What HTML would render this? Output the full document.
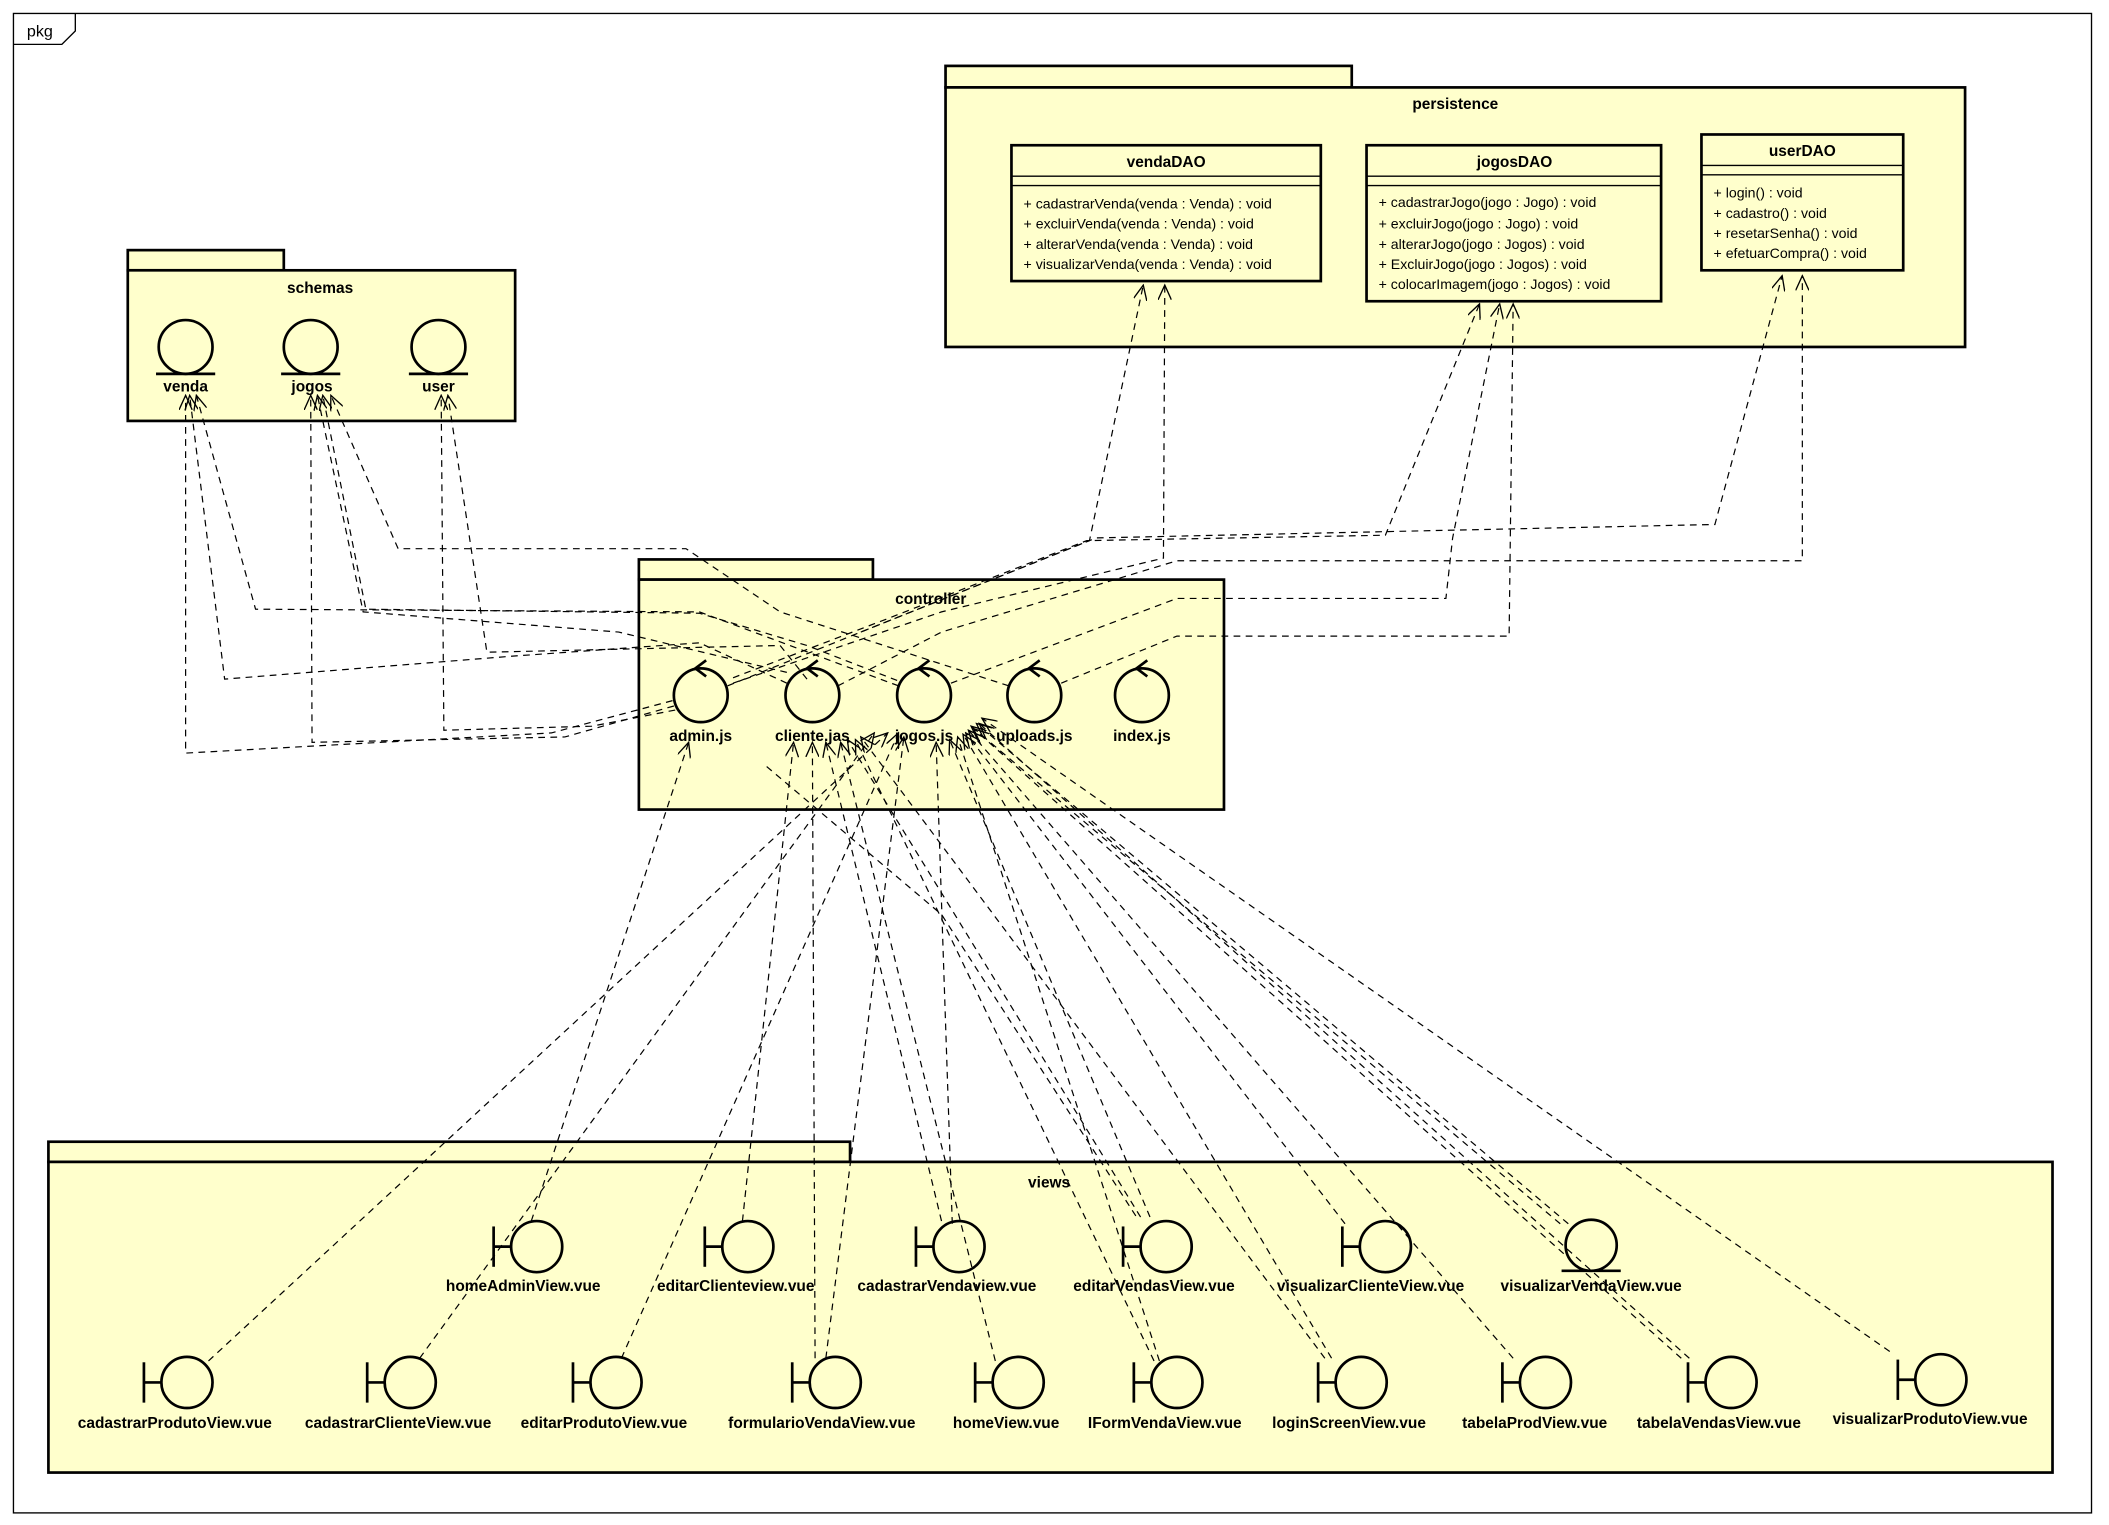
<!DOCTYPE html>
<html><head><meta charset="utf-8"><style>
html,body{margin:0;padding:0;background:#fff;width:2109px;height:1525px;overflow:hidden}
svg{display:block}
text{font-family:"Liberation Sans",Arial,sans-serif;fill:#000}
.b{font-weight:bold;font-size:11.5px}
.m{font-size:10.5px}
.pk{fill:#ffffcc;stroke:#000;stroke-width:2}
.sh{fill:none;stroke:#000;stroke-width:2}
.d{fill:none;stroke:#000;stroke-width:0.9;stroke-dasharray:5,4}
</style></head><body>
<svg width="2109" height="1525" viewBox="0 0 1568 1134" preserveAspectRatio="none" xmlns="http://www.w3.org/2000/svg">
<defs>
<marker id="a" viewBox="0 0 12 10" refX="11" refY="5" markerWidth="12" markerHeight="10" markerUnits="userSpaceOnUse" orient="auto">
<path d="M0,0 L11,5 L0,10" fill="none" stroke="#000" stroke-width="1"/></marker>
</defs>
<rect x="0" y="0" width="1568" height="1134" fill="#fff"/>
<!-- frame -->
<rect x="10" y="10" width="1545" height="1115" fill="none" stroke="#000" stroke-width="1"/>
<path d="M10,33 L46,33 L56,23 L56,10" fill="none" stroke="#000" stroke-width="1"/>
<text x="20" y="27" style="font-size:12px">pkg</text>

<!-- schemas -->
<rect class="pk" x="95" y="186" width="116" height="15"/>
<rect class="pk" x="95" y="201" width="288" height="112"/>
<text class="b" x="238" y="218" text-anchor="middle">schemas</text>
<g>
<circle class="sh" cx="138" cy="258" r="20"/><line x1="116" y1="278" x2="160" y2="278" stroke="#000" stroke-width="2"/>
<text class="b" x="138" y="291" text-anchor="middle">venda</text>
<circle class="sh" cx="231" cy="258" r="20"/><line x1="209" y1="278" x2="253" y2="278" stroke="#000" stroke-width="2"/>
<text class="b" x="232" y="291" text-anchor="middle">jogos</text>
<circle class="sh" cx="326" cy="258" r="20"/><line x1="304" y1="278" x2="348" y2="278" stroke="#000" stroke-width="2"/>
<text class="b" x="326" y="291" text-anchor="middle">user</text>
</g>

<!-- persistence -->
<rect class="pk" x="703" y="49" width="302" height="16"/>
<rect class="pk" x="703" y="65" width="758" height="193"/>
<text class="b" x="1082" y="81" text-anchor="middle">persistence</text>
<rect class="pk" x="752" y="108" width="230" height="101"/>
<line x1="752" y1="131" x2="982" y2="131" stroke="#000"/><line x1="752" y1="138" x2="982" y2="138" stroke="#000"/>
<text class="b" x="867" y="124" text-anchor="middle">vendaDAO</text>
<text class="m" x="761" y="155">+ cadastrarVenda(venda : Venda) : void</text>
<text class="m" x="761" y="170">+ excluirVenda(venda : Venda) : void</text>
<text class="m" x="761" y="185">+ alterarVenda(venda : Venda) : void</text>
<text class="m" x="761" y="200">+ visualizarVenda(venda : Venda) : void</text>

<rect class="pk" x="1016" y="108" width="219" height="116"/>
<line x1="1016" y1="131" x2="1235" y2="131" stroke="#000"/><line x1="1016" y1="138" x2="1235" y2="138" stroke="#000"/>
<text class="b" x="1126" y="124" text-anchor="middle">jogosDAO</text>
<text class="m" x="1025" y="154">+ cadastrarJogo(jogo : Jogo) : void</text>
<text class="m" x="1025" y="170">+ excluirJogo(jogo : Jogo) : void</text>
<text class="m" x="1025" y="185">+ alterarJogo(jogo : Jogos) : void</text>
<text class="m" x="1025" y="200">+ ExcluirJogo(jogo : Jogos) : void</text>
<text class="m" x="1025" y="215">+ colocarImagem(jogo : Jogos) : void</text>

<rect class="pk" x="1265" y="100" width="150" height="101"/>
<line x1="1265" y1="123" x2="1415" y2="123" stroke="#000"/><line x1="1265" y1="130" x2="1415" y2="130" stroke="#000"/>
<text class="b" x="1340" y="116" text-anchor="middle">userDAO</text>
<text class="m" x="1274" y="147">+ login() : void</text>
<text class="m" x="1274" y="162">+ cadastro() : void</text>
<text class="m" x="1274" y="177">+ resetarSenha() : void</text>
<text class="m" x="1274" y="192">+ efetuarCompra() : void</text>

<!-- controller -->
<rect class="pk" x="475" y="416" width="174" height="15"/>
<rect class="pk" x="475" y="431" width="435" height="171"/>
<text class="b" x="692" y="449" text-anchor="middle">controller</text>
<g>
<circle class="sh" cx="521" cy="517" r="20"/><path d="M525,491 L517,497 L525,503" class="sh"/>
<text class="b" x="521" y="551" text-anchor="middle">admin.js</text>
<circle class="sh" cx="604" cy="517" r="20"/><path d="M608,491 L600,497 L608,503" class="sh"/>
<text class="b" x="604" y="551" text-anchor="middle">cliente.jas</text>
<circle class="sh" cx="687" cy="517" r="20"/><path d="M691,491 L683,497 L691,503" class="sh"/>
<text class="b" x="687" y="551" text-anchor="middle">jogos.js</text>
<circle class="sh" cx="769" cy="517" r="20"/><path d="M773,491 L765,497 L773,503" class="sh"/>
<text class="b" x="769" y="551" text-anchor="middle">uploads.js</text>
<circle class="sh" cx="849" cy="517" r="20"/><path d="M853,491 L845,497 L853,503" class="sh"/>
<text class="b" x="849" y="551" text-anchor="middle">index.js</text>
</g>

<!-- views -->
<rect class="pk" x="36" y="849" width="596" height="15"/>
<rect class="pk" x="36" y="864" width="1490" height="231"/>
<text class="b" x="780" y="883" text-anchor="middle">views</text>
<g>
<!-- row 1 -->
<line x1="367" y1="912" x2="367" y2="942" class="sh"/><line x1="367" y1="927" x2="380" y2="927" class="sh"/><circle class="sh" cx="399" cy="927" r="19"/>
<text class="b" x="389" y="960" text-anchor="middle">homeAdminView.vue</text>
<line x1="524" y1="912" x2="524" y2="942" class="sh"/><line x1="524" y1="927" x2="537" y2="927" class="sh"/><circle class="sh" cx="556" cy="927" r="19"/>
<text class="b" x="547" y="960" text-anchor="middle">editarClienteview.vue</text>
<line x1="681" y1="912" x2="681" y2="942" class="sh"/><line x1="681" y1="927" x2="694" y2="927" class="sh"/><circle class="sh" cx="713" cy="927" r="19"/>
<text class="b" x="704" y="960" text-anchor="middle">cadastrarVendaview.vue</text>
<line x1="835" y1="912" x2="835" y2="942" class="sh"/><line x1="835" y1="927" x2="848" y2="927" class="sh"/><circle class="sh" cx="867" cy="927" r="19"/>
<text class="b" x="858" y="960" text-anchor="middle">editarVendasView.vue</text>
<line x1="998" y1="912" x2="998" y2="942" class="sh"/><line x1="998" y1="927" x2="1011" y2="927" class="sh"/><circle class="sh" cx="1030" cy="927" r="19"/>
<text class="b" x="1019" y="960" text-anchor="middle">visualizarClienteView.vue</text>
<circle class="sh" cx="1183" cy="926" r="19"/><line x1="1161" y1="945" x2="1205" y2="945" stroke="#000" stroke-width="2"/>
<text class="b" x="1183" y="960" text-anchor="middle">visualizarVendaView.vue</text>
<!-- row 2 -->
<line x1="107" y1="1013" x2="107" y2="1043" class="sh"/><line x1="107" y1="1028" x2="120" y2="1028" class="sh"/><circle class="sh" cx="139" cy="1028" r="19"/>
<text class="b" x="130" y="1062" text-anchor="middle">cadastrarProdutoView.vue</text>
<line x1="273" y1="1013" x2="273" y2="1043" class="sh"/><line x1="273" y1="1028" x2="286" y2="1028" class="sh"/><circle class="sh" cx="305" cy="1028" r="19"/>
<text class="b" x="296" y="1062" text-anchor="middle">cadastrarClienteView.vue</text>
<line x1="426" y1="1013" x2="426" y2="1043" class="sh"/><line x1="426" y1="1028" x2="439" y2="1028" class="sh"/><circle class="sh" cx="458" cy="1028" r="19"/>
<text class="b" x="449" y="1062" text-anchor="middle">editarProdutoView.vue</text>
<line x1="589" y1="1013" x2="589" y2="1043" class="sh"/><line x1="589" y1="1028" x2="602" y2="1028" class="sh"/><circle class="sh" cx="621" cy="1028" r="19"/>
<text class="b" x="611" y="1062" text-anchor="middle">formularioVendaView.vue</text>
<line x1="725" y1="1013" x2="725" y2="1043" class="sh"/><line x1="725" y1="1028" x2="738" y2="1028" class="sh"/><circle class="sh" cx="757" cy="1028" r="19"/>
<text class="b" x="748" y="1062" text-anchor="middle">homeView.vue</text>
<line x1="843" y1="1013" x2="843" y2="1043" class="sh"/><line x1="843" y1="1028" x2="856" y2="1028" class="sh"/><circle class="sh" cx="875" cy="1028" r="19"/>
<text class="b" x="866" y="1062" text-anchor="middle">IFormVendaView.vue</text>
<line x1="980" y1="1013" x2="980" y2="1043" class="sh"/><line x1="980" y1="1028" x2="993" y2="1028" class="sh"/><circle class="sh" cx="1012" cy="1028" r="19"/>
<text class="b" x="1003" y="1062" text-anchor="middle">loginScreenView.vue</text>
<line x1="1117" y1="1013" x2="1117" y2="1043" class="sh"/><line x1="1117" y1="1028" x2="1130" y2="1028" class="sh"/><circle class="sh" cx="1149" cy="1028" r="19"/>
<text class="b" x="1141" y="1062" text-anchor="middle">tabelaProdView.vue</text>
<line x1="1255" y1="1013" x2="1255" y2="1043" class="sh"/><line x1="1255" y1="1028" x2="1268" y2="1028" class="sh"/><circle class="sh" cx="1287" cy="1028" r="19"/>
<text class="b" x="1278" y="1062" text-anchor="middle">tabelaVendasView.vue</text>
<line x1="1411" y1="1011" x2="1411" y2="1041" class="sh"/><line x1="1411" y1="1026" x2="1424" y2="1026" class="sh"/><circle class="sh" cx="1443" cy="1026" r="19"/>
<text class="b" x="1435" y="1059" text-anchor="middle">visualizarProdutoView.vue</text>
</g>

<!-- dependencies: views -> controller -->
<g class="d" marker-end="url(#a)">
<path d="M155,1012 L660,545"/>
<path d="M312,1010 L650,545"/>
<path d="M395,908 L512,552"/>
<path d="M552,908 L590,552"/>
<path d="M462,1010 L668,545"/>
<path d="M606,1010 L604,552"/>
<path d="M614,1010 L672,548"/>
<path d="M700,908 L614,552"/>
<path d="M708,910 L696,552"/>
<path d="M740,1012 L625,552"/>
<path d="M848,905 L630,550"/>
<path d="M855,905 L706,550"/>
<path d="M858,1012 L636,550"/>
<path d="M862,1012 L712,548"/>
<path d="M1000,910 L718,545"/>
<path d="M985,1010 L640,548"/>
<path d="M990,1010 L716,546"/>
<path d="M1125,1010 L720,543"/>
<path d="M1160,910 L722,540"/>
<path d="M1166,910 L726,538"/>
<path d="M1250,1010 L724,542"/>
<path d="M1256,1010 L728,538"/>
<path d="M1405,1005 L730,534"/>
<path d="M570,570 L700,680 L845,905" marker-end="none"/>
</g>

<!-- controller -> schemas -->
<g class="d" marker-end="url(#a)">
<path d="M500,521 L410,545 L138,560 L138,294"/>
<path d="M501,525 L420,548 L232,552 L231,294"/>
<path d="M502,528 L440,540 L330,543 L328,294"/>
<path d="M585,508 L520,478 L380,488 L167,505 L141,294"/>
<path d="M668,510 L520,455 L190,453 L146,294"/>
<path d="M667,506 L600,480 L520,456 L272,453 L240,294"/>
<path d="M750,510 L580,455 L510,408 L296,408 L246,294"/>
<path d="M600,505 L580,480 L362,485 L333,294"/>
<path d="M585,500 L460,470 L270,455 L236,294"/>
</g>

<!-- controller -> persistence -->
<g class="d" marker-end="url(#a)">
<path d="M541,510 L640,470 L810,402 L850,212"/>
<path d="M545,508 L700,455 L865,415 L866,212"/>
<path d="M545,504 L660,460 L808,402 L1030,398 L1100,226"/>
<path d="M623,510 L700,470 L875,417 L1340,417 L1340,205"/>
<path d="M707,508 L875,445 L1075,445 L1080,400 L1115,226"/>
<path d="M789,508 L875,473 L1122,473 L1125,226"/>
<path d="M640,470 L815,400 L1275,390 L1325,205"/>
</g>
</svg>
</body></html>
